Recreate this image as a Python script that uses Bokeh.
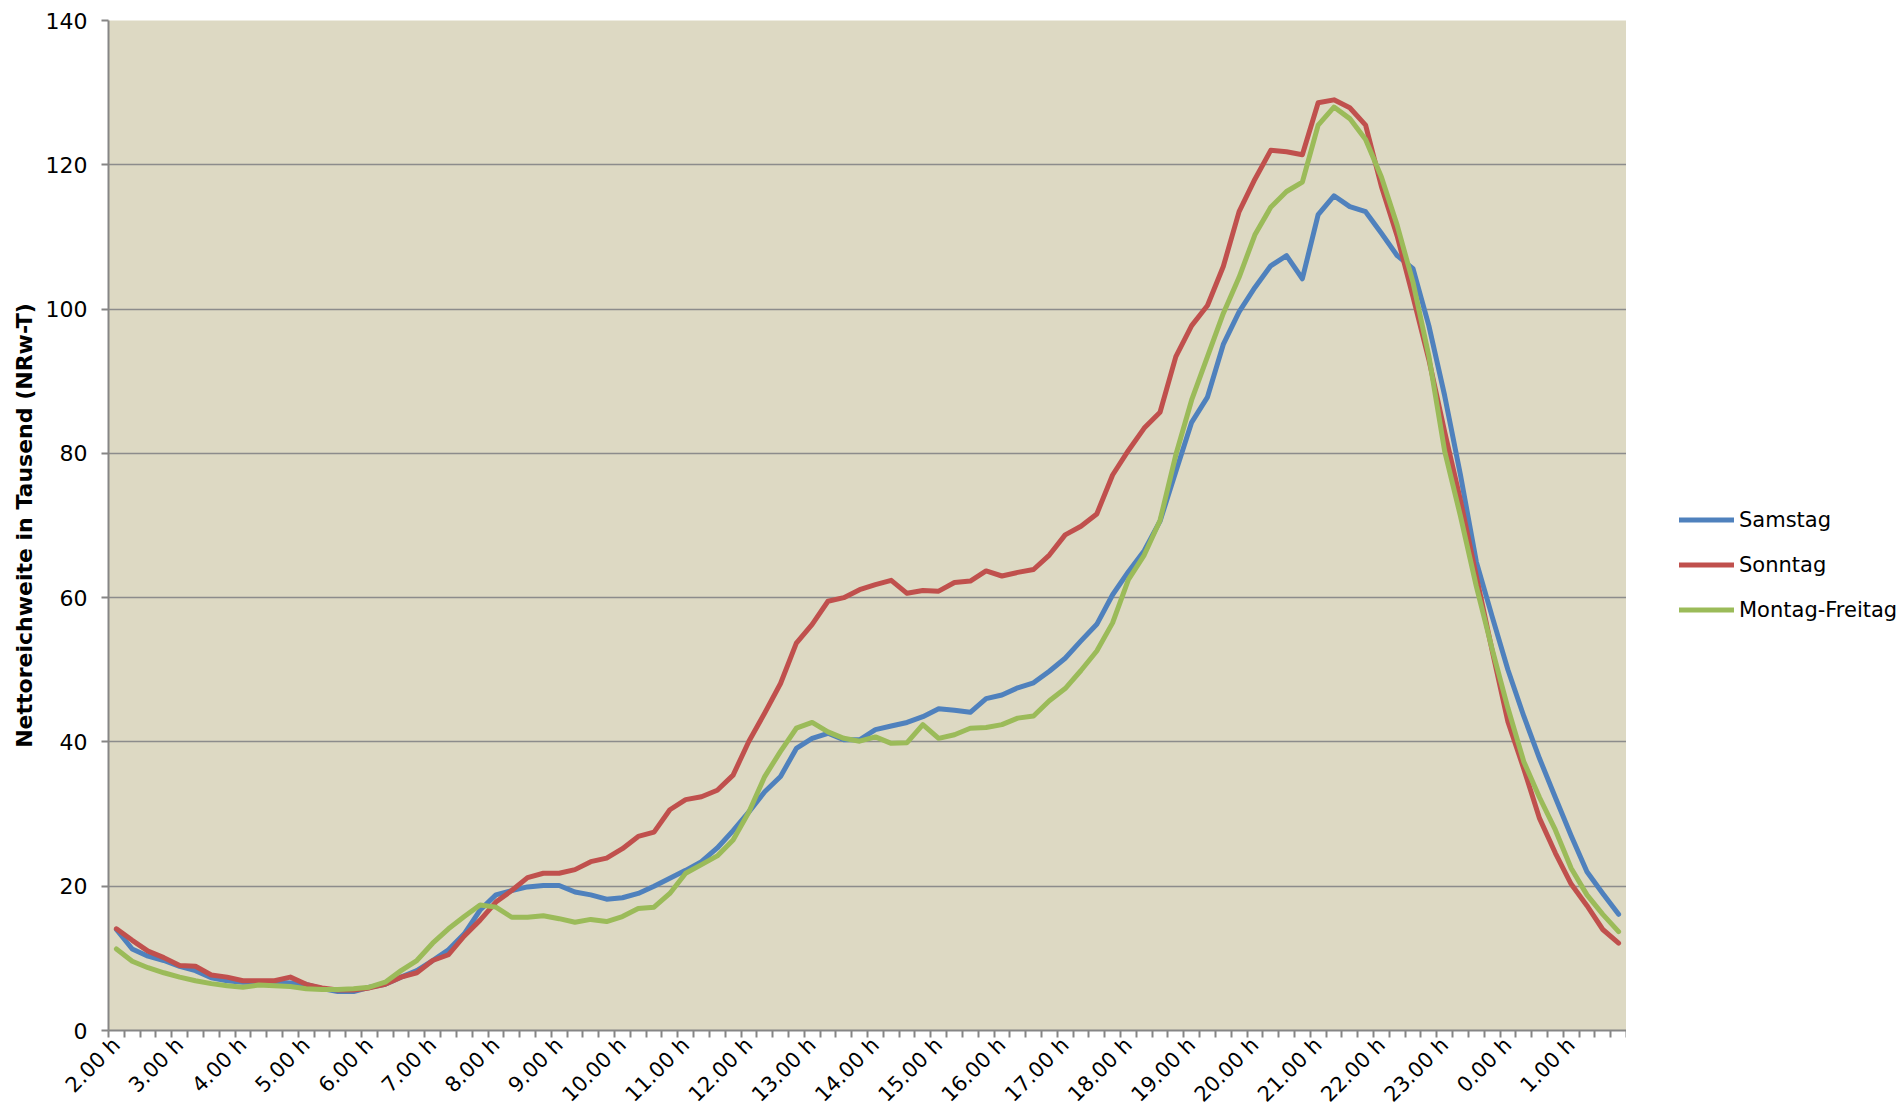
import math
from bokeh.plotting import figure
from bokeh.layouts import row
from bokeh.models import FixedTicker, Legend, LegendItem, Range1d
from bokeh.embed import file_html
from bokeh.resources import INLINE

# Tick labels (one per hour; data are quarter-hour slots starting at 2.00 h)
hour_labels = ["2.00 h", "3.00 h", "4.00 h", "5.00 h", "6.00 h", "7.00 h", "8.00 h",
               "9.00 h", "10.00 h", "11.00 h", "12.00 h", "13.00 h", "14.00 h",
               "15.00 h", "16.00 h", "17.00 h", "18.00 h", "19.00 h", "20.00 h",
               "21.00 h", "22.00 h", "23.00 h", "0.00 h", "1.00 h"]

series_names = ["Samstag", "Sonntag", "Montag-Freitag"]

samstag = [14.0, 11.3, 10.3, 9.7, 8.9, 8.3, 7.3, 6.9, 6.7, 6.7,
           6.7, 6.6, 6.4, 5.8, 5.4, 5.4, 6.0, 6.4, 7.4, 8.3,
           9.7, 11.2, 13.4, 16.7, 18.8, 19.4, 19.9, 20.1, 20.1, 19.2,
           18.8, 18.2, 18.4, 19.0, 20.0, 21.1, 22.2, 23.4, 25.3, 27.7,
           30.3, 33.1, 35.2, 39.1, 40.5, 41.2, 40.3, 40.3, 41.7, 42.2,
           42.7, 43.5, 44.6, 44.4, 44.1, 46.0, 46.5, 47.5, 48.2, 49.8,
           51.6, 54.0, 56.3, 60.4, 63.6, 66.5, 70.6, 77.5, 84.3, 87.8,
           95.1, 99.6, 103.0, 106.0, 107.4, 104.2, 113.1, 115.7, 114.2, 113.5,
           110.5, 107.4, 105.6, 97.7, 88.0, 77.0, 65.0, 57.4, 50.0, 43.6,
           37.7, 32.3, 27.0, 22.0, 19.0, 16.1]

sonntag = [14.1, 12.5, 11.0, 10.1, 9.0, 8.9, 7.7, 7.4, 6.9, 6.9,
           6.9, 7.4, 6.4, 5.9, 5.6, 5.6, 5.9, 6.4, 7.4, 8.0,
           9.7, 10.5, 13.1, 15.3, 17.8, 19.4, 21.2, 21.8, 21.8, 22.3,
           23.4, 23.9, 25.2, 26.9, 27.5, 30.6, 32.0, 32.4, 33.3, 35.4,
           40.1, 44.0, 48.1, 53.7, 56.3, 59.5, 60.0, 61.1, 61.8, 62.4,
           60.6, 61.0, 60.9, 62.1, 62.3, 63.7, 63.0, 63.5, 63.9, 65.9,
           68.7, 69.9, 71.6, 77.0, 80.4, 83.5, 85.7, 93.4, 97.7, 100.5,
           105.9, 113.5, 118.0, 122.0, 121.8, 121.4, 128.6, 129.0, 127.9, 125.5,
           117.0, 110.1, 101.7, 93.0, 83.0, 73.5, 63.0, 52.7, 42.8, 36.3,
           29.4, 24.6, 20.3, 17.3, 14.0, 12.1]

montag_freitag = [11.3, 9.6, 8.7, 8.0, 7.4, 6.9, 6.5, 6.2, 6.0, 6.3,
                  6.2, 6.1, 5.8, 5.7, 5.7, 5.8, 6.0, 6.7, 8.3, 9.7,
                  12.1, 14.1, 15.8, 17.4, 17.1, 15.7, 15.7, 15.9, 15.5, 15.0,
                  15.4, 15.1, 15.8, 16.9, 17.1, 19.0, 21.8, 23.0, 24.2, 26.4,
                  30.3, 35.2, 38.7, 41.9, 42.7, 41.4, 40.5, 40.1, 40.7, 39.8,
                  39.9, 42.4, 40.5, 41.0, 41.9, 42.0, 42.4, 43.3, 43.6, 45.7,
                  47.4, 49.9, 52.6, 56.5, 62.5, 65.9, 70.7, 79.8, 87.4, 93.4,
                  99.4, 104.4, 110.3, 114.1, 116.3, 117.6, 125.5, 128.0, 126.4, 123.5,
                  118.3, 111.6, 103.7, 93.5, 80.3, 71.3, 61.6, 52.9, 44.7, 37.3,
                  32.3, 27.8, 22.5, 18.8, 16.1, 13.7]

y_ticks = [0, 20, 40, 60, 80, 100, 120, 140]

n = len(samstag)
slots = list(range(n))
all_series = [samstag, sonntag, montag_freitag]

FONT = "DejaVu Sans"
AXIS_GREY = "#868686"
colors = ["#4F81BD", "#C0504D", "#9BBB59"]
H = 1118
LW = 5

p = figure(width=1626, height=H,
           x_range=Range1d(-0.5, n - 0.5), y_range=Range1d(0, 140),
           output_backend="svg", toolbar_location=None,
           min_border_left=108, min_border_right=0,
           min_border_top=20, min_border_bottom=88,
           background_fill_color="#DDD9C3", border_fill_color="white",
           outline_line_color=None)

# x axis: labels each hour, tick marks at quarter-hour slot boundaries
major = [4 * k for k in range(len(hour_labels))]
minor = [k - 0.5 for k in range(n + 1)]
p.xaxis.ticker = FixedTicker(ticks=major, minor_ticks=minor)
p.xaxis.major_label_overrides = {m: lbl for m, lbl in zip(major, hour_labels)}
p.xaxis.major_label_orientation = math.pi / 4
p.xaxis.major_tick_out = 0
p.xaxis.major_tick_in = 0
p.xaxis.minor_tick_out = 7
p.xaxis.minor_tick_in = 0
p.xaxis.minor_tick_line_color = AXIS_GREY
p.xaxis.minor_tick_line_width = 2
p.xaxis.major_label_standoff = 4

p.yaxis.ticker = FixedTicker(ticks=y_ticks)
p.yaxis.major_tick_out = 7
p.yaxis.major_tick_in = 0
p.yaxis.minor_tick_line_color = None
p.yaxis.major_label_standoff = 14
p.yaxis.axis_label = "Nettoreichweite in Tausend (NRw-T)"
p.yaxis.axis_label_text_font = FONT
p.yaxis.axis_label_text_font_style = "bold"
p.yaxis.axis_label_text_font_size = "22px"
p.yaxis.axis_label_text_color = "black"
p.yaxis.axis_label_standoff = 6

for ax in (p.xaxis, p.yaxis):
    ax.axis_line_color = AXIS_GREY
    ax.axis_line_width = 2
    ax.major_tick_line_color = AXIS_GREY
    ax.major_tick_line_width = 2
    ax.major_label_text_font = FONT
    ax.major_label_text_color = "black"
p.yaxis.major_label_text_font_size = "22px"
p.xaxis.major_label_text_font_size = "21px"

p.xgrid.visible = False
p.ygrid.ticker = FixedTicker(ticks=y_ticks[1:])
p.ygrid.grid_line_color = "#8C8C8C"
p.ygrid.grid_line_width = 1.6

for vals, col in zip(all_series, colors):
    p.line(slots, vals, line_color=col, line_width=LW,
           line_join="round", line_cap="round")

# Legend lives in a narrow companion figure to the right of the plot area;
# its proxy lines carry the same series but lie outside that figure's ranges.
lg = figure(width=274, height=H, x_range=Range1d(0, 1), y_range=Range1d(-2, -1),
            output_backend="svg", toolbar_location=None,
            min_border=0, outline_line_color=None,
            background_fill_color="white", border_fill_color="white")
lg.axis.visible = False
lg.grid.visible = False
proxies = [lg.line(slots, vals, line_color=col, line_width=LW, line_cap="round")
           for vals, col in zip(all_series, colors)]
legend = Legend(items=[LegendItem(label=nm, renderers=[r])
                       for nm, r in zip(series_names, proxies)],
                location=(53, 408), orientation="vertical",
                glyph_width=55, glyph_height=25, label_height=25,
                label_standoff=5, spacing=20, padding=0, margin=0,
                border_line_color=None, background_fill_alpha=0,
                label_text_font=FONT, label_text_font_size="21px",
                label_text_color="black")
lg.add_layout(legend)

layout = row(p, lg)
open("out.html", "w").write(file_html(layout, INLINE))
